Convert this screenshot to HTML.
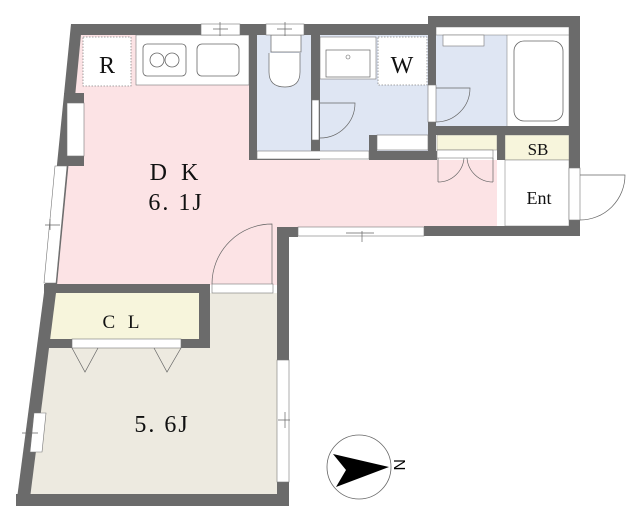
<!DOCTYPE html>
<html><head><style>body{margin:0;background:#fff}svg{display:block}</style></head><body>
<svg width="640" height="521" viewBox="0 0 640 521" xmlns="http://www.w3.org/2000/svg" font-family="Liberation Serif, serif">
<polygon points="80,35 250,35 250,160 497,160 497,227 277,227 277,285 55,285" fill="#fce3e5"/>
<polygon points="44,348 208,348 208,293 277,293 277,494 29,494" fill="#edeae0"/>
<rect x="47" y="293" width="152" height="46" fill="#f7f5dc"/>
<rect x="257" y="35" width="54" height="116" fill="#dfe6f3"/>
<rect x="319" y="35" width="110" height="116" fill="#dfe6f3"/>
<rect x="436" y="27" width="71" height="100" fill="#dfe6f3"/>
<rect x="507" y="27" width="62" height="100" fill="#fff" stroke="#777" stroke-width="0.5"/>
<rect x="436" y="27" width="133" height="8" fill="#fff" stroke="#777" stroke-width="0.5"/>
<rect x="437" y="135" width="60" height="15" fill="#f7f5dc" stroke="#888" stroke-width="0.5"/>
<rect x="505" y="135" width="64" height="25" fill="#f7f5dc" stroke="#888" stroke-width="0.5"/>
<rect x="505" y="160" width="64" height="66" fill="#fff" stroke="#777" stroke-width="0.5"/>
<rect x="136" y="35" width="113" height="50" fill="#fff" stroke="#777" stroke-width="0.6"/>
<rect x="143" y="44" width="43" height="32" rx="4" fill="none" stroke="#666" stroke-width="0.8"/>
<circle cx="157" cy="60" r="7" fill="none" stroke="#666" stroke-width="0.8"/>
<circle cx="172" cy="60" r="7" fill="none" stroke="#666" stroke-width="0.8"/>
<rect x="197" y="44" width="42" height="32" rx="5" fill="none" stroke="#666" stroke-width="0.8"/>
<rect x="83" y="37" width="48" height="49" fill="#fff" stroke="#888" stroke-width="0.8" stroke-dasharray="1.5,1.5"/>
<rect x="378" y="37" width="49" height="48" fill="#fff" stroke="#888" stroke-width="0.8" stroke-dasharray="1.5,1.5"/>
<rect x="320" y="37" width="56" height="42" fill="#fff" stroke="#777" stroke-width="0.6"/>
<rect x="326" y="50" width="44" height="27" fill="none" stroke="#666" stroke-width="0.7"/>
<circle cx="348" cy="57" r="2" fill="none" stroke="#666" stroke-width="0.6"/>
<rect x="271" y="35" width="30" height="17" fill="#fff" stroke="#666" stroke-width="0.7"/>
<path d="M269,53 L269,72 Q269,87 285,87 Q300,87 300,72 L300,53" fill="#fff" stroke="#666" stroke-width="0.7"/>
<rect x="514" y="41" width="49" height="80" rx="10" fill="#fff" stroke="#666" stroke-width="0.8"/>
<rect x="443" y="35" width="41" height="11" fill="#fff" stroke="#777" stroke-width="0.6"/>
<g fill="#6b6b6b">
<polygon points="71,24 82,24 57,285 45,285"/>
<rect x="71" y="24" width="357" height="11"/>
<rect x="428" y="16" width="152" height="11"/>
<rect x="569" y="16" width="11" height="220"/>
<rect x="424" y="226" width="156" height="10"/>
<rect x="277" y="227" width="21" height="10"/>
<rect x="277" y="227" width="12" height="279"/>
<rect x="16" y="494" width="273" height="12"/>
<polygon points="45,285 57,285 29,506 16,506"/>
<rect x="44" y="284" width="166" height="9"/>
<rect x="199" y="284" width="11" height="64"/>
<rect x="38" y="339" width="172" height="9"/>
<rect x="249" y="35" width="8" height="125"/>
<rect x="249" y="151" width="70" height="9"/>
<rect x="311" y="35" width="9" height="125"/>
<rect x="369" y="135" width="8" height="25"/>
<rect x="369" y="151" width="68" height="9"/>
<rect x="428" y="27" width="8" height="133"/>
<rect x="436" y="126" width="133" height="9"/>
<rect x="497" y="135" width="8" height="25"/>
<rect x="64" y="93" width="20" height="10"/>
<rect x="64" y="156" width="20" height="10"/>
</g>
<g fill="#fff" stroke="#777" stroke-width="0.6">
<rect x="201" y="24" width="39" height="11"/>
<rect x="266" y="24" width="38" height="11"/>
<rect x="67" y="103" width="17" height="53"/>
<polygon points="55,166 67,166 56,283 44,283"/>
<polygon points="34,413 46,413 42,452 30,452"/>
<rect x="312" y="100" width="7" height="40"/>
<rect x="428" y="85" width="8" height="37"/>
<rect x="377" y="135" width="51" height="15"/>
<rect x="257" y="151" width="112" height="8"/>
<rect x="298" y="227" width="126" height="9"/>
<rect x="569" y="168" width="11" height="52"/>
<rect x="212" y="284" width="61" height="9"/>
<rect x="72" y="339" width="109" height="9"/>
<rect x="277" y="360" width="12" height="122"/>
<rect x="437" y="150" width="56" height="8"/>
</g>
<g fill="none" stroke="#666" stroke-width="0.7">
<path d="M212,284 A60,60 0 0 1 272,224 L272,284"/>
<path d="M320,138 A35,35 0 0 0 355,103 L320,103"/>
<path d="M436,122 A34,34 0 0 0 470,88 L436,88"/>
<path d="M580,220 A45,45 0 0 0 625,175 L580,175"/>
<path d="M438,158 L438,182 M438,182 A26,26 0 0 0 464,158 M493,158 L493,182 M493,182 A26,26 0 0 1 467,158"/>
<path d="M72,348 L85,372 L98,348 M154,348 L167,372 L181,348"/>
<path d="M362,231 L362,242 M346,233 L374,233"/>
<path d="M278,420 L290,420 M285,412 L285,428"/>
<path d="M22,433 L38,433 M28,428 L28,438"/>
<path d="M45,225 L60,225 M50,219 L50,230"/>
<path d="M213,29 L228,29 M220,22 L220,36 M277,29 L292,29 M285,22 L285,36"/>
</g>
<circle cx="359" cy="467" r="32" fill="#fff" stroke="#666" stroke-width="0.8"/>
<polygon points="333,454 389,467 336,487 346,470" fill="#000"/>
<text x="393" y="474" font-size="16" transform="rotate(90 401 467)" font-family="Liberation Sans, sans-serif">N</text>
<g fill="#111" text-anchor="middle">
<text x="107" y="73" font-size="24">R</text>
<text x="402" y="73" font-size="24">W</text>
<text x="176" y="180" font-size="24" letter-spacing="4">D K</text>
<text x="176" y="210" font-size="24" letter-spacing="2">6. 1J</text>
<text x="123" y="328" font-size="19" letter-spacing="4">C L</text>
<text x="162" y="432" font-size="24" letter-spacing="2">5. 6J</text>
<text x="538" y="155" font-size="17">SB</text>
<text x="539" y="204" font-size="18">Ent</text>
</g>
</svg>
</body></html>
